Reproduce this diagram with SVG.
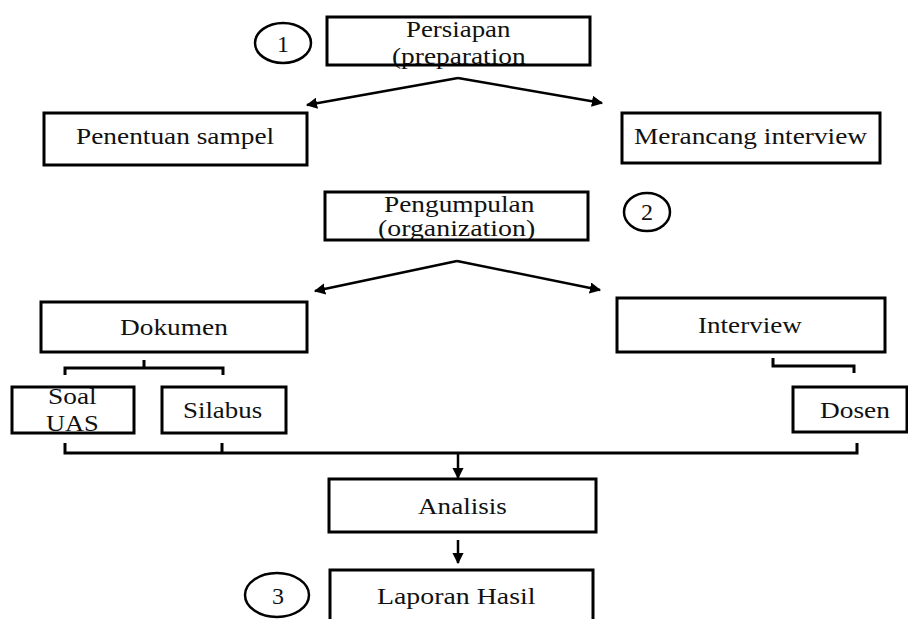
<svg xmlns="http://www.w3.org/2000/svg" width="908" height="619" viewBox="0 0 908 619">
<style>
  .box { fill: none; stroke: #000; stroke-width: 3; }
  .circ { fill: none; stroke: #000; stroke-width: 2.5; }
  .n { text-anchor: middle; }
  .ln { fill: none; stroke: #000; stroke-width: 2.5; }
  .br { fill: none; stroke: #000; stroke-width: 3; }
</style>
<defs>
  <marker id="ah" viewBox="0 0 10 10" refX="9" refY="5" markerWidth="4.5" markerHeight="4.5" orient="auto" markerUnits="strokeWidth">
    <path d="M0,0 L10,5 L0,10 z" fill="#000"/>
  </marker>
</defs>
<rect width="908" height="619" fill="#fff"/>
<g font-family="Liberation Serif" font-size="24" fill="#111">
<g id="step1">
  <ellipse class="circ" cx="283" cy="43" rx="28" ry="20"/>
  <text class="n" x="283" y="52">1</text>
</g>
<g id="persiapan">
  <text transform="translate(406,37) scale(1.12,1)">Persiapan</text>
  <text transform="translate(392,64) scale(1.14,1)">(preparation</text>
  <rect class="box" x="327" y="17" width="263" height="48"/>
</g>
<g id="penentuan">
  <rect class="box" x="44" y="113" width="263" height="52"/>
  <text transform="translate(76,144) scale(1.14,1)">Penentuan sampel</text>
</g>
<g id="merancang">
  <rect class="box" x="622" y="113" width="258" height="50"/>
  <text transform="translate(634,144) scale(1.14,1)">Merancang interview</text>
</g>
<g id="pengumpulan">
  <text transform="translate(384,212) scale(1.14,1)">Pengumpulan</text>
  <text transform="translate(378,236) scale(1.16,1)">(organization)</text>
  <rect class="box" x="325" y="192" width="263" height="48"/>
</g>
<g id="step2">
  <ellipse class="circ" cx="647" cy="212" rx="23" ry="19"/>
  <text class="n" x="647" y="220">2</text>
</g>
<g id="dokumen">
  <rect class="box" x="41" y="302" width="266" height="50"/>
  <text transform="translate(120,335) scale(1.14,1)">Dokumen</text>
</g>
<g id="interview">
  <rect class="box" x="617" y="298" width="268" height="54"/>
  <text transform="translate(698,333) scale(1.13,1)">Interview</text>
</g>
<g id="soaluas">
  <text transform="translate(48,404) scale(1.14,1)">Soal</text>
  <text transform="translate(46,431) scale(1.1,1)">UAS</text>
  <rect class="box" x="12" y="387" width="122" height="46"/>
</g>
<g id="silabus">
  <rect class="box" x="162" y="387" width="124" height="46"/>
  <text transform="translate(183,418) scale(1.12,1)">Silabus</text>
</g>
<g id="dosen">
  <rect class="box" x="793" y="387" width="114" height="45"/>
  <text transform="translate(820,418) scale(1.14,1)">Dosen</text>
</g>
<g id="analisis">
  <rect class="box" x="329" y="479" width="267" height="53"/>
  <text transform="translate(418,514) scale(1.13,1)">Analisis</text>
</g>
<g id="laporan">
  <rect class="box" x="330" y="570" width="263" height="60"/>
  <text transform="translate(377,604) scale(1.16,1)">Laporan Hasil</text>
</g>
<g id="step3">
  <ellipse class="circ" cx="277" cy="595" rx="32" ry="22"/>
  <text class="n" x="278" y="604">3</text>
</g>
</g>
<g id="connectors">
  <line class="ln" x1="458" y1="78" x2="307" y2="105" marker-end="url(#ah)"/>
  <line class="ln" x1="458" y1="78" x2="602" y2="103" marker-end="url(#ah)"/>
  <line class="ln" x1="457" y1="261" x2="315" y2="291" marker-end="url(#ah)"/>
  <line class="ln" x1="457" y1="261" x2="600" y2="290" marker-end="url(#ah)"/>
  <path class="br" d="M144,360 V368 M65,375 V368 H223 V375"/>
  <path class="br" d="M773,358 V366 H854 V373"/>
  <path class="br" d="M65,443 V453 H857 V443 M222,443 V453"/>
  <line class="ln" x1="458" y1="454" x2="458" y2="478" marker-end="url(#ah)"/>
  <line class="ln" x1="458" y1="540" x2="458" y2="563" marker-end="url(#ah)"/>
</g>
</svg>
